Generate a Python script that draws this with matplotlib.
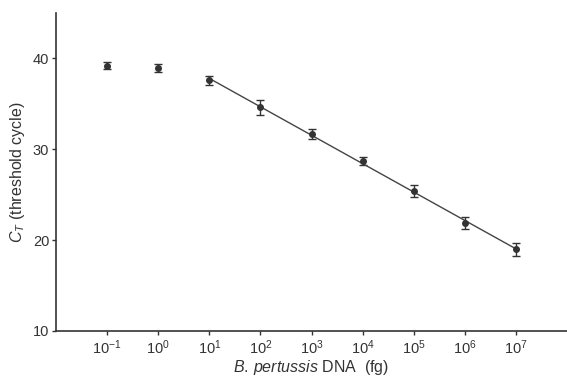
import numpy as np
import matplotlib
matplotlib.use("Agg")
import matplotlib.pyplot as plt

plt.rcParams['font.family'] = ['Liberation Sans', 'DejaVu Sans']
plt.rcParams['mathtext.fontset'] = 'custom'
plt.rcParams['mathtext.rm'] = 'Liberation Sans'
plt.rcParams['mathtext.it'] = 'Liberation Sans:italic'

dna_fg = [1e-1, 1e0, 1e1, 1e2, 1e3, 1e4, 1e5, 1e6, 1e7]
ct_mean = [39.2, 38.9, 37.6, 34.6, 31.7, 28.7, 25.4, 21.9, 19.0]
ct_err = [0.4, 0.45, 0.5, 0.8, 0.55, 0.45, 0.7, 0.65, 0.7]
xtick_exps = [-1, 0, 1, 2, 3, 4, 5, 6, 7]
ytick_vals = [10, 20, 30, 40]

fig = plt.figure(figsize=(5.67, 3.8), dpi=100)
ax = fig.add_axes([0.099, 0.129, 0.901, 0.837])

ax.errorbar(dna_fg, ct_mean, yerr=ct_err, fmt='o', color='#333333',
            markersize=4, capsize=3, elinewidth=1.0, capthick=1.0)

# regression line over the linear range (10^1 .. 10^7)
xs = np.log10(dna_fg[2:])
coef = np.polyfit(xs, ct_mean[2:], 1)
xl = np.array([xs[0], xs[-1]])
ax.plot(10 ** xl, np.polyval(coef, xl), color='#444444', lw=1.0)

ax.set_xscale('log')
ax.set_xlim(10 ** -2.0, 10 ** 8.0)
ax.set_ylim(10, 45)
ax.set_xticks([10.0 ** e for e in xtick_exps])
ax.set_xticklabels([r'$10^{%s}$' % (('\u2212' + str(-e)) if e < 0 else str(e)) for e in xtick_exps])
ax.xaxis.set_minor_locator(matplotlib.ticker.NullLocator())
ax.set_yticks(ytick_vals)

for s in ['top', 'right']:
    ax.spines[s].set_visible(False)
for s in ['left', 'bottom']:
    ax.spines[s].set_color('#333333')
    ax.spines[s].set_linewidth(1.2)

ax.tick_params(axis='both', labelsize=10.5, colors='#333333', length=3, width=1)
ax.tick_params(axis='y', pad=2)
ax.tick_params(axis='x', pad=2)

ax.set_ylabel(r'$\mathit{C}_T$ (threshold cycle)', fontsize=11.5, color='#333333', labelpad=4)
ax.set_xlabel(r'$\mathit{B.\,pertussis}$ DNA  (fg)', fontsize=11.5, color='#333333', labelpad=1)

fig.savefig('out.png', dpi=100)
